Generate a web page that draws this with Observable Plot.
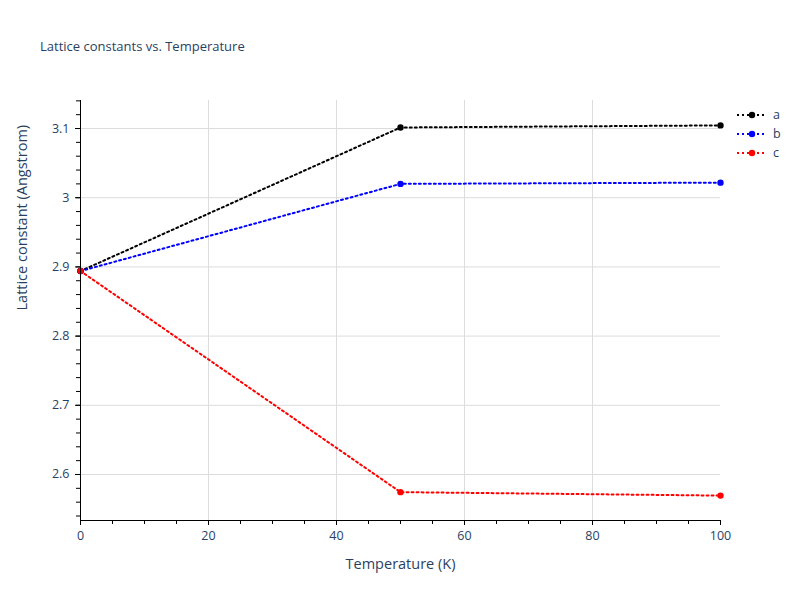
<!DOCTYPE html>
<html><head><meta charset="utf-8">
<script src="https://cdn.jsdelivr.net/npm/d3@7"></script>
<script src="https://cdn.jsdelivr.net/npm/@observablehq/plot@0.6"></script>
<style>
body{margin:0;background:#fff;font-family:"Open Sans",sans-serif;}
#wrap{position:relative;width:800px;height:600px;}
#title{position:absolute;left:40px;top:37px;font-size:13px;color:#2a3f5f;}
#legend{position:absolute;left:736px;top:105px;font-size:12.5px;color:#2a3f5f;}
.li{display:flex;align-items:center;height:19px;}
.li svg{margin-right:7px;}
</style></head>
<body><div id="wrap"><div id="title">Lattice constants vs. Temperature</div><div id="legend"></div></div>
<script>
const temperature = [0, 50, 100];
const seriesA = [2.894, 3.1015, 3.1045];
const seriesB = [2.894, 3.020, 3.0218];
const seriesC = [2.894, 2.5745, 2.5695];
const seriesNames = ["a", "b", "c"];
const seriesColors = ["black", "blue", "red"];
const xTicks = [0, 20, 40, 60, 80, 100];
const yTicks = [2.6, 2.7, 2.8, 2.9, 3.0, 3.1];

const all = [seriesA, seriesB, seriesC];
const data = [];
all.forEach((vals, i) => vals.forEach((v, j) => data.push({series: seriesNames[i], t: temperature[j], v})));

const yDomain = [2.5335, 3.1405];
const textColor = "#2a3f5f";
const plot = Plot.plot({
  width: 800, height: 600,
  marginLeft: 80, marginRight: 80, marginTop: 100, marginBottom: 80,
  style: {fontFamily: "Open Sans, sans-serif", fontSize: "12px", color: textColor, background: "transparent"},
  x: {domain: [0, 100], label: null},
  y: {domain: yDomain, label: null},
  color: {domain: seriesNames, range: seriesColors},
  marks: [
    Plot.ruleX(xTicks.filter(d => d > 0 && d < 100), {stroke: "#dcdcdc", strokeWidth: 1}),
    Plot.ruleY(yTicks, {stroke: "#dcdcdc", strokeWidth: 1}),
    Plot.axisX({ticks: d3.range(0, 101, 5), tickSize: 4, stroke: "black", text: null, label: null}),
    Plot.axisX({ticks: xTicks, tickSize: 5, tickPadding: 6, stroke: "black", fill: textColor, fontSize: 12.5, label: null}),
    Plot.axisY({ticks: d3.range(2.54, 3.141, 0.02), tickSize: 4, stroke: "black", text: null, label: null}),
    Plot.axisY({ticks: yTicks, tickSize: 5, tickPadding: 6, stroke: "black", fill: textColor, fontSize: 12.5, tickFormat: d => String(+d.toFixed(2)), label: null}),
    Plot.text(["Temperature (K)"], {frameAnchor: "bottom", dy: 48, fontSize: 14.5, fill: textColor}),
    Plot.text(["Lattice constant (Angstrom)"], {frameAnchor: "left", dx: -58, rotate: -90, fontSize: 14.5, fill: textColor}),
    Plot.line(data, {x: "t", y: "v", z: "series", stroke: "series", strokeWidth: 2, strokeDasharray: "2,3"}),
    Plot.dot(data, {x: "t", y: "v", fill: "series", r: 3.2}),
    Plot.ruleX([0], {stroke: "black", strokeWidth: 1}),
    Plot.ruleY([yDomain[0]], {stroke: "black", strokeWidth: 1})
  ]
});
plot.style.position = "absolute"; plot.style.left = "0"; plot.style.top = "0";
document.getElementById("wrap").prepend(plot);

const leg = document.getElementById("legend");
seriesNames.forEach((n, i) => {
  const d = document.createElement("div"); d.className = "li";
  d.innerHTML = `<svg width="30" height="10"><line x1="1" x2="29" y1="5" y2="5" stroke="${seriesColors[i]}" stroke-width="2" stroke-dasharray="2,3"/><circle cx="16" cy="5" r="3.2" fill="${seriesColors[i]}"/></svg><span>${n}</span>`;
  leg.appendChild(d);
});
</script></body></html>
